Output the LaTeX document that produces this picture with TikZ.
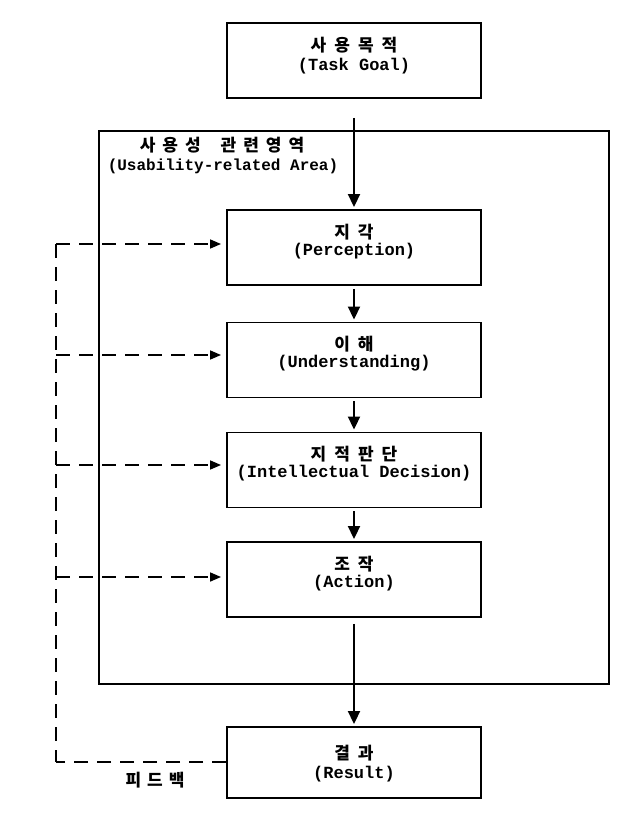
\documentclass[tikz,border=0pt]{standalone}
\usepackage{fontspec}
\usetikzlibrary{arrows.meta}
\newfontfamily\kr{Noto Sans CJK KR}
\newfontfamily\en{Liberation Mono}
\newcommand{\kg}{\hspace{8pt}}
\begin{document}
\begin{tikzpicture}[x=1pt,y=-1pt,
  box/.style={draw, line width=1.9pt, minimum width=254pt, minimum height=75pt, inner sep=0pt},
  ko/.style={font=\kr\bfseries\fontsize{17}{17}\selectfont, inner sep=0pt},
  en/.style={font=\en\bfseries\fontsize{17}{17}\selectfont, inner sep=0pt},
  flow/.style={line width=1.9pt, -{Triangle[width=12pt,length=13pt]}},
  fb/.style={line width=1.6pt, dash pattern=on 14pt off 9pt},
  fbarrow/.style={fb, -{Triangle[width=9pt,length=11pt]}, shorten >=5pt}]
\useasboundingbox (0,0) rectangle (622,818);
% outer area
\node[draw, line width=1.9pt, minimum width=510pt, minimum height=553pt, inner sep=0pt] (area) at (354,407.5) {};
\node[ko] (areak) at (222,145) {사\hspace{7pt}용\hspace{7pt}성\hspace{20pt}관\hspace{7pt}련\hspace{7pt}영\hspace{7pt}역};
\node[en, font=\en\bfseries\fontsize{16}{16}\selectfont] (areae) at (223,166) {(Usability-related Area)};
% boxes
\node[box] (tg) at (354,60.5) {};
\node[ko] (tgk) at (354,45) {사\kg 용\kg 목\kg 적};
\node[en] (tge) at (354,66) {(Task Goal)};
\node[box] (per) at (354,247.5) {};
\node[ko] (perk) at (354,232) {지\kg 각};
\node[en] (pere) at (354,251) {(Perception)};
\node[box] (und) at (354,360) {};
\node[ko] (undk) at (354,344.5) {이\kg 해};
\node[en] (unde) at (354,363.5) {(Understanding)};
\node[box] (dec) at (354,470) {};
\node[ko] (deck) at (354,454.5) {지\kg 적\kg 판\kg 단};
\node[en] (dece) at (354,473.5) {(Intellectual Decision)};
\node[box] (act) at (354,579.5) {};
\node[ko] (actk) at (354,564) {조\kg 작};
\node[en] (acte) at (354,583) {(Action)};
\node[box, minimum height=71pt] (res) at (354,762.5) {};
\node[ko] (resk) at (354,753) {결\kg 과};
\node[en] (rese) at (354,774) {(Result)};
\node[ko] (fbk) at (155,780) {피\hspace{6pt}드\hspace{6pt}백};
% flow arrows
\draw[flow] ([yshift=-19pt]tg.south) -- ([yshift=2pt]per.north);
\draw[flow] ([yshift=-3pt]per.south) -- ([yshift=2pt]und.north);
\draw[flow] ([yshift=-3pt]und.south) -- ([yshift=2pt]dec.north);
\draw[flow] ([yshift=-3pt]dec.south) -- ([yshift=2pt]act.north);
\draw[flow] ([yshift=-6pt]act.south) -- ([yshift=2pt]res.north);
% feedback
\coordinate (b1) at (56,244);
\coordinate (b2) at (56,355);
\coordinate (b3) at (56,465);
\coordinate (b4) at (56,577);
\coordinate (bb) at (56,762);
\draw[fb] (b1) -- (bb);
\draw[fb] (bb -| res.west) -- (bb);
\draw[fbarrow] (b1) -- (b1 -| per.west);
\draw[fbarrow] (b2) -- (b2 -| und.west);
\draw[fbarrow] (b3) -- (b3 -| dec.west);
\draw[fbarrow] (b4) -- (b4 -| act.west);
\end{tikzpicture}
\end{document}
